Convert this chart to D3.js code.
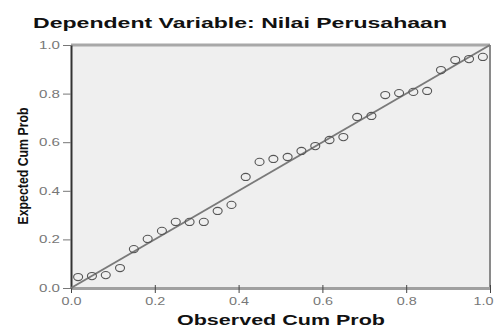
<!DOCTYPE html>
<html>
<head>
<meta charset="utf-8">
<script src="https://cdn.jsdelivr.net/npm/d3@7"></script>
<style>
html,body{margin:0;padding:0;background:#fff;}
svg{display:block;}
text{font-family:"Liberation Sans",Arial,sans-serif;}
</style>
</head>
<body>
<div id="chart"></div>
<script>
const title = "Dependent Variable: Nilai Perusahaan";
const xLabel = "Observed Cum Prob";
const yLabel = "Expected Cum Prob";
const tickValues = [0, 0.2, 0.4, 0.6, 0.8, 1.0];
const observed = [0.017,0.050,0.083,0.117,0.150,0.183,0.217,0.250,0.283,0.317,
                  0.350,0.383,0.417,0.450,0.483,0.517,0.550,0.583,0.617,0.650,
                  0.683,0.717,0.750,0.783,0.817,0.850,0.883,0.917,0.950,0.983];
const expected = [0.045,0.049,0.053,0.082,0.160,0.202,0.235,0.272,0.272,0.272,
                  0.317,0.342,0.457,0.519,0.531,0.539,0.564,0.584,0.609,0.621,
                  0.704,0.708,0.794,0.802,0.807,0.811,0.897,0.938,0.942,0.951];

const W = 494, H = 327;
const mLeft = 71, mRight = 490, mTop = 45, mBottom = 288;

const svg = d3.select("#chart").append("svg").attr("width", W).attr("height", H);

const x = d3.scaleLinear().domain([0, 1]).range([mLeft, mRight]);
const y = d3.scaleLinear().domain([0, 1]).range([mBottom, mTop]);

// plot background
svg.append("rect").attr("x", mLeft).attr("y", mTop)
  .attr("width", mRight - mLeft).attr("height", mBottom - mTop)
  .attr("fill", "#efefef");

// top and right borders
svg.append("line").attr("x1", mLeft).attr("x2", mRight).attr("y1", mTop).attr("y2", mTop)
  .attr("stroke", "#a8a8a8").attr("stroke-width", 3);
svg.append("line").attr("x1", mRight).attr("x2", mRight).attr("y1", mTop).attr("y2", mBottom)
  .attr("stroke", "#8a8a8a").attr("stroke-width", 2);

// x axis
const xAxis = d3.axisBottom(x).tickValues(tickValues).tickFormat(d3.format(".1f"))
  .tickSizeInner(5).tickSizeOuter(0).tickPadding(4);
const gx = svg.append("g").attr("transform", `translate(0,${mBottom})`).call(xAxis);
gx.select(".domain").attr("stroke", "#a0a0a0").attr("stroke-width", 3);
gx.selectAll(".tick line").attr("stroke", "#444").attr("y1", -3);
gx.selectAll(".tick text").attr("fill", "#777").attr("font-size", 11)
  .attr("textLength", 20).attr("lengthAdjust", "spacingAndGlyphs");
// keep the last label inside the window
gx.selectAll(".tick text").filter(d => d === 1).attr("text-anchor", "end").attr("dx", 3);

// y axis
const yAxis = d3.axisLeft(y).tickValues(tickValues).tickFormat(d3.format(".1f"))
  .tickSizeInner(8).tickSizeOuter(0).tickPadding(3);
const gy = svg.append("g").attr("transform", `translate(${mLeft},0)`).call(yAxis);
gy.select(".domain").attr("stroke", "#333").attr("stroke-width", 2);
gy.selectAll(".tick line").attr("stroke", "#777");
gy.selectAll(".tick text").attr("fill", "#777").attr("font-size", 11)
  .attr("textLength", 21).attr("lengthAdjust", "spacingAndGlyphs");

// diagonal reference line
svg.append("line")
  .attr("x1", x(0)).attr("y1", y(0)).attr("x2", x(1)).attr("y2", y(1))
  .attr("stroke", "#7a7a7a").attr("stroke-width", 2);

// points
svg.append("g").selectAll("ellipse")
  .data(observed.map((o, i) => ({o, e: expected[i]})))
  .join("ellipse")
  .attr("cx", d => x(d.o)).attr("cy", d => y(d.e))
  .attr("rx", 4.5).attr("ry", 3.6)
  .attr("fill", "none").attr("stroke", "#555").attr("stroke-width", 1.1);

// title
svg.append("text").attr("x", 240).attr("y", 28).attr("text-anchor", "middle")
  .attr("font-size", 15).attr("font-weight", "bold").attr("fill", "#111")
  .attr("textLength", 414).attr("lengthAdjust", "spacingAndGlyphs")
  .text(title);

// x label
svg.append("text").attr("x", 281).attr("y", 325).attr("text-anchor", "middle")
  .attr("font-size", 14).attr("font-weight", "bold").attr("fill", "#111")
  .attr("textLength", 208).attr("lengthAdjust", "spacingAndGlyphs")
  .text(xLabel);

// y label
svg.append("text")
  .attr("transform", "translate(28,166) rotate(-90)")
  .attr("text-anchor", "middle")
  .attr("font-size", 14).attr("font-weight", "bold").attr("fill", "#111")
  .attr("textLength", 117).attr("lengthAdjust", "spacingAndGlyphs")
  .text(yLabel);
</script>
</body>
</html>
